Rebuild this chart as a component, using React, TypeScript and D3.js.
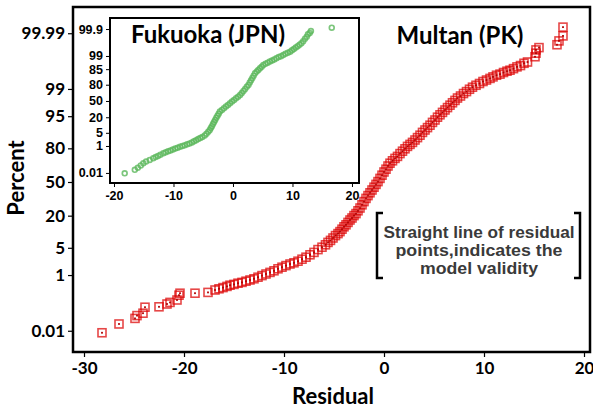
import React, { useRef, useEffect } from "react";
import * as d3 from "d3";

// Multan (PK): [residual, percent]
const multanPoints: [number, number][] = [
  [-28.2, 0.0082], [-26.5, 0.0193], [-24.9, 0.0325], [-24.7, 0.0419], [-24.1, 0.0519],
  [-23.9, 0.0874], [-22.5, 0.0904], [-21.7, 0.1144], [-21.4, 0.1306], [-20.7, 0.1589],
  [-20.5, 0.2327], [-20.4, 0.2718], [-18.9, 0.2718], [-17.6, 0.289], [-16.9, 0.3467],
  [-16.5, 0.3793], [-16.1, 0.4145], [-15.7, 0.4527], [-15.4, 0.494], [-15.0, 0.5234],
  [-14.6, 0.5703], [-14.2, 0.6037], [-13.8, 0.6569], [-13.4, 0.7143], [-13.0, 0.776],
  [-12.6, 0.8656], [-12.2, 0.9642], [-11.8, 1.0724], [-11.4, 1.1911], [-11.0, 1.3209],
  [-10.6, 1.5003], [-10.2, 1.6586], [-9.8, 1.8309], [-9.4, 2.0182], [-9.0, 2.1692],
  [-8.6, 2.3852], [-8.2, 2.6803], [-7.8, 3.0054], [-7.4, 3.438], [-7.0, 3.9204],
  [-6.6, 4.5514], [-6.2, 5.1551], [-5.85, 5.8208], [-5.6, 6.5522], [-5.35, 7.2145],
  [-5.1, 8.0757], [-4.85, 9.0123], [-4.6, 9.8525], [-4.4, 10.7488], [-4.2, 11.9],
  [-4.0, 13.14], [-3.8, 14.23], [-3.6, 15.62], [-3.4, 17.11], [-3.2, 18.41],
  [-3.0, 20.05], [-2.8, 21.48], [-2.6, 23.58], [-2.4, 25.78], [-2.2, 28.43],
  [-2.0, 31.21], [-1.8, 34.09], [-1.6, 36.69], [-1.4, 39.36], [-1.2, 42.07],
  [-1.0, 44.83], [-0.8, 47.61], [-0.6, 50.4], [-0.4, 53.59], [-0.2, 56.75],
  [0.0, 59.87], [0.2, 62.55], [0.4, 65.54], [0.6, 68.08], [0.85, 70.19],
  [1.1, 72.24], [1.35, 73.89], [1.6, 76.12], [1.85, 77.94], [2.1, 79.67],
  [2.35, 81.33], [2.6, 82.64], [2.85, 83.89], [3.1, 85.31], [3.35, 86.65],
  [3.6, 87.9], [3.85, 89.25], [4.1, 90.32], [4.35, 91.31], [4.6, 92.22],
  [4.85, 93.19], [5.1, 93.94], [5.35, 94.74], [5.6, 95.35], [5.85, 95.91],
  [6.1, 96.41], [6.35, 96.86], [6.6, 97.26], [6.85, 97.62], [7.1, 97.93],
  [7.35, 98.21], [7.65, 98.42], [7.95, 98.65], [8.25, 98.81], [8.55, 98.98],
  [8.85, 99.11], [9.2, 99.22], [9.55, 99.31], [9.9, 99.4], [10.25, 99.46],
  [10.6, 99.52], [10.9, 99.57], [11.25, 99.62], [11.6, 99.65], [11.95, 99.69],
  [12.3, 99.72], [12.6, 99.74], [12.95, 99.77], [13.3, 99.8], [13.65, 99.82],
  [14.0, 99.85], [14.35, 99.865], [15.1, 99.913], [15.2, 99.936], [15.2, 99.952],
  [15.5, 99.961], [17.3, 99.97], [17.5, 99.979], [17.9, 99.987], [17.9, 99.9946],
];

// Fukuoka (JPN): [residual, percent]
const fukuokaPoints: [number, number][] = [
  [-18.2, 0.0092], [-16.5, 0.0185], [-16.0, 0.028], [-15.5, 0.0434], [-15.07, 0.0641],
  [-14.6, 0.0874], [-14.0, 0.1144], [-13.4, 0.1538], [-13.0, 0.1866], [-12.6, 0.2256],
  [-12.2, 0.2718], [-11.7, 0.3467], [-11.3, 0.4025], [-10.9, 0.4661], [-10.5, 0.5234],
  [-10.1, 0.6037], [-9.7, 0.6947], [-9.3, 0.776], [-8.9, 0.8894], [-8.5, 0.9903],
  [-8.1, 1.1011], [-7.7, 1.2545], [-7.3, 1.3903], [-6.9, 1.6177], [-6.55, 1.8763],
  [-6.2, 2.1178], [-5.85, 2.4419], [-5.5, 2.7429], [-5.15, 3.1443], [-4.75, 3.7538],
  [-4.45, 4.5514], [-4.15, 5.5917], [-3.9, 6.6807], [-3.72, 8.0757], [-3.54, 9.68],
  [-3.36, 11.7], [-3.18, 13.79], [-3.0, 16.35], [-2.8, 19.22], [-2.6, 22.36],
  [-2.4, 25.46], [-2.2, 29.12], [-1.86, 32.28], [-1.52, 35.2], [-1.18, 38.59],
  [-0.84, 41.68], [-0.5, 45.22], [-0.16, 48.8], [0.18, 51.99], [0.52, 55.57],
  [0.86, 58.71], [1.2, 62.17], [1.48, 65.91], [1.76, 69.85], [2.04, 73.24],
  [2.32, 76.73], [2.6, 79.67], [2.82, 82.89], [3.04, 85.77], [3.26, 88.3],
  [3.48, 90.49], [3.7, 92.36], [3.98, 93.57], [4.26, 94.52], [4.54, 95.45],
  [4.82, 96.16], [5.1, 96.86], [5.47, 97.26], [5.83, 97.62], [6.2, 97.93],
  [6.57, 98.17], [6.93, 98.42], [7.3, 98.65], [7.68, 98.84], [8.07, 98.98],
  [8.45, 99.13], [8.83, 99.27], [9.22, 99.36], [9.6, 99.46], [9.92, 99.56],
  [10.23, 99.64], [10.55, 99.71], [10.87, 99.77], [11.18, 99.82], [11.5, 99.856],
  [11.8, 99.9], [12.1, 99.934], [12.4, 99.955], [12.6, 99.972], [12.9, 99.978],
  [13.1, 99.985], [16.6, 99.9925],
];

const mainXTicks = [-30, -20, -10, 0, 10, 20];
const mainYTicks = [0.01, 1, 5, 20, 50, 80, 95, 99, 99.99];
const mainYTickLabels = ["0.01", "1", "5", "20", "50", "80", "95", "99", "99.99"];
const insetXTicks = [-20, -10, 0, 10, 20];
const insetYTicks = [0.01, 1, 5, 20, 50, 80, 95, 99, 99.99];
const insetYTickLabels = ["0.01", "1", "5", "20", "50", "80", "85", "99", "99.9"];
const noteLines = ["Straight line of residual", "points,indicates the", "model validity"];
const noteWidths = [191, 167, 118];

// inverse normal cdf (Acklam)
function normInv(p: number): number {
  const a = [-39.69683028665376, 220.9460984245205, -275.9285104469687, 138.357751867269, -30.66479806614716, 2.506628277459239];
  const b = [-54.47609879822406, 161.5858368580409, -155.6989798598866, 66.80131188771972, -13.28068155288572];
  const c = [-0.007784894002430293, -0.3223964580411365, -2.400758277161838, -2.549732539343734, 4.374664141464968, 2.938163982698783];
  const d = [0.007784695709041462, 0.3224671290700398, 2.445134137142996, 3.754408661907416];
  const pl = 0.02425;
  if (p < pl) {
    const q = Math.sqrt(-2 * Math.log(p));
    return (((((c[0] * q + c[1]) * q + c[2]) * q + c[3]) * q + c[4]) * q + c[5]) /
      ((((d[0] * q + d[1]) * q + d[2]) * q + d[3]) * q + 1);
  }
  if (p > 1 - pl) {
    const q = Math.sqrt(-2 * Math.log(1 - p));
    return -(((((c[0] * q + c[1]) * q + c[2]) * q + c[3]) * q + c[4]) * q + c[5]) /
      ((((d[0] * q + d[1]) * q + d[2]) * q + d[3]) * q + 1);
  }
  const q = p - 0.5;
  const r = q * q;
  return (((((a[0] * r + a[1]) * r + a[2]) * r + a[3]) * r + a[4]) * r + a[5]) * q /
    (((((b[0] * r + b[1]) * r + b[2]) * r + b[3]) * r + b[4]) * r + 1);
}

const W = 593;
const H = 412;
const calibri = "Lato, 'Open Sans', sans-serif";
const arial = "'Liberation Sans', Arial, sans-serif";

const App: React.FC = () => {
  const svgRef = useRef<SVGSVGElement>(null);

  useEffect(() => {
    if (!svgRef.current) return;
    const svg = d3.select(svgRef.current);
    svg.selectAll("*").remove();

    // main plot area
    const m = { left: 73, top: 7, right: 590, bottom: 352 };
    const x = d3.scaleLinear().domain([-31.1, 20.6]).range([m.left, m.right]);
    const y = d3.scaleLinear().domain([-4.25, 4.375]).range([m.bottom, m.top]);
    const yp = (p: number) => y(normInv(p / 100));

    svg.append("rect").attr("width", W).attr("height", H).attr("fill", "#fff");

    // red squares (dense band gets darker where they overlap)
    const red = svg.append("g");
    red.selectAll("rect.sq")
      .data(multanPoints)
      .enter()
      .append("rect")
      .attr("class", "sq")
      .attr("x", (d) => x(d[0]) - 4)
      .attr("y", (d) => yp(d[1]) - 4)
      .attr("width", 8)
      .attr("height", 8)
      .attr("fill", "none")
      .attr("stroke", "#dc0000")
      .attr("stroke-opacity", 0.72)
      .attr("stroke-width", 1.6);
    red.selectAll("rect.dot")
      .data(multanPoints)
      .enter()
      .append("rect")
      .attr("class", "dot")
      .attr("x", (d) => x(d[0]) - 0.9)
      .attr("y", (d) => yp(d[1]) - 0.9)
      .attr("width", 1.8)
      .attr("height", 1.8)
      .attr("fill", "#b00000");

    // frame
    svg.append("rect")
      .attr("x", m.left).attr("y", m.top)
      .attr("width", m.right - m.left).attr("height", m.bottom - m.top)
      .attr("fill", "none").attr("stroke", "#000").attr("stroke-width", 2.5);

    const xAxis = svg.append("g")
      .attr("transform", `translate(0,${m.bottom})`)
      .call(d3.axisBottom(x).tickValues(mainXTicks).tickSize(5).tickPadding(5).tickFormat((d) => String(d)));
    const yAxis = svg.append("g")
      .attr("transform", `translate(${m.left},0)`)
      .call(d3.axisLeft(y).tickValues(mainYTicks.map((p) => normInv(p / 100))).tickSize(5).tickPadding(3)
        .tickFormat((_d, i) => mainYTickLabels[i]));
    [xAxis, yAxis].forEach((g) => {
      g.select(".domain").remove();
      g.selectAll("line").attr("stroke", "#000").attr("stroke-width", 1.2);
      g.selectAll("text").attr("font-family", calibri).attr("font-weight", "bold")
        .attr("font-size", 17).attr("fill", "#000");
    });

    svg.append("text")
      .attr("x", 333).attr("y", 404).attr("text-anchor", "middle")
      .attr("font-family", calibri).attr("font-weight", "bold").attr("font-size", 22)
      .text("Residual");
    svg.append("text")
      .attr("transform", "translate(24,178) rotate(-90)").attr("text-anchor", "middle")
      .attr("font-family", calibri).attr("font-weight", "bold").attr("font-size", 22)
      .text("Percent");
    svg.append("text")
      .attr("x", 460).attr("y", 44).attr("text-anchor", "middle")
      .attr("font-family", calibri).attr("font-weight", "bold").attr("font-size", 24)
      .text("Multan (PK)");

    // note with brackets
    const note = svg.append("g");
    note.append("path").attr("d", "M383,213H377V278H383").attr("fill", "none").attr("stroke", "#000").attr("stroke-width", 2.5);
    note.append("path").attr("d", "M574,213H580V278H574").attr("fill", "none").attr("stroke", "#000").attr("stroke-width", 2.5);
    note.selectAll("text")
      .data(noteLines)
      .enter()
      .append("text")
      .attr("x", 479)
      .attr("y", (_d, i) => 238 + i * 17.8)
      .attr("text-anchor", "middle")
      .attr("textLength", (_d, i) => noteWidths[i])
      .attr("lengthAdjust", "spacingAndGlyphs")
      .attr("font-family", arial).attr("font-weight", "bold").attr("font-size", 16)
      .attr("fill", "#3a3a3a")
      .text((d) => d);

    // inset
    const s = { left: 110, top: 18, right: 359, bottom: 183 };
    const xi = d3.scaleLinear().domain([-20.67, 21.18]).range([s.left, s.right]);
    const yi = d3.scaleLinear().domain([-4.24, 4.29]).range([s.bottom, s.top]);
    const yip = (p: number) => yi(normInv(p / 100));

    svg.append("rect")
      .attr("x", s.left).attr("y", s.top)
      .attr("width", s.right - s.left).attr("height", s.bottom - s.top)
      .attr("fill", "#fff").attr("stroke", "#000").attr("stroke-width", 2);

    svg.append("g").selectAll("circle")
      .data(fukuokaPoints)
      .enter()
      .append("circle")
      .attr("cx", (d) => xi(d[0]))
      .attr("cy", (d) => yip(d[1]))
      .attr("r", 2.4)
      .attr("fill", "none")
      .attr("stroke", "#5cb85c")
      .attr("stroke-opacity", 0.8)
      .attr("stroke-width", 1.7);

    const xiAxis = svg.append("g")
      .attr("transform", `translate(0,${s.bottom})`)
      .call(d3.axisBottom(xi).tickValues(insetXTicks).tickSize(4).tickPadding(4).tickFormat((d) => String(d)));
    const yiAxis = svg.append("g")
      .attr("transform", `translate(${s.left},0)`)
      .call(d3.axisLeft(yi).tickValues(insetYTicks.map((p) => normInv(p / 100))).tickSize(4).tickPadding(3)
        .tickFormat((_d, i) => insetYTickLabels[i]));
    [xiAxis, yiAxis].forEach((g) => {
      g.select(".domain").remove();
      g.selectAll("line").attr("stroke", "#000").attr("stroke-width", 1);
      g.selectAll("text").attr("font-family", arial).attr("font-weight", "bold")
        .attr("font-size", 12.5).attr("fill", "#000");
    });

    svg.append("text")
      .attr("x", 208).attr("y", 43).attr("text-anchor", "middle")
      .attr("font-family", calibri).attr("font-weight", "bold").attr("font-size", 24)
      .text("Fukuoka (JPN)");
  }, []);

  return (
    <div style={{ position: "absolute", left: 0, top: 0 }}>
      <svg ref={svgRef} width={W} height={H} />
    </div>
  );
};

export default App;
